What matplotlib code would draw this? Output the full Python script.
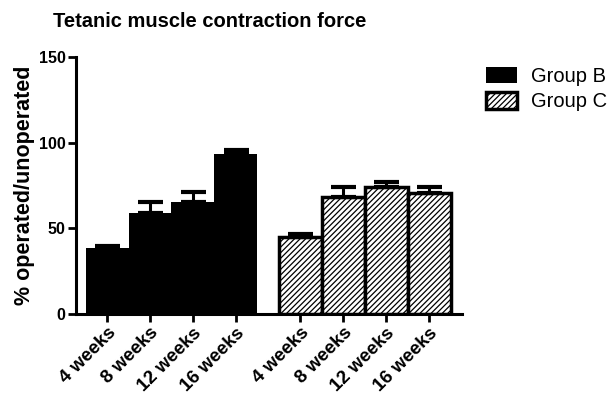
import matplotlib
matplotlib.use('Agg')
from matplotlib import pyplot as plt
import numpy as np

plt.rcParams['font.family'] = ['Liberation Sans', 'DejaVu Sans']
plt.rcParams['hatch.linewidth'] = 0.9
plt.rcParams['hatch.color'] = '#2a2a2a'

# tetanic force, % operated/unoperated (mean and SEM)
timepoints = ['4 weeks', '8 weeks', '12 weeks', '16 weeks']
group_b_mean = [38.3, 58.8, 65.4, 93.2]
group_b_sem = [1.5, 6.4, 6.0, 2.4]
group_c_mean = [45.1, 68.5, 74.3, 70.8]
group_c_sem = [1.6, 5.8, 2.6, 3.3]

pos_b = np.arange(len(timepoints))
pos_c = pos_b + len(timepoints) + 0.5

fig = plt.figure(figsize=(6.14, 4.0), dpi=100)
ax = fig.add_axes([0.124, 0.215, 0.628, 0.6425])

err_kw = dict(elinewidth=2.2, capsize=9, capthick=3, ecolor='black')
ax.bar(pos_b, group_b_mean, width=1.0, color='black', edgecolor='black',
       linewidth=0, label='Group B')
ax.errorbar(pos_b, group_b_mean, yerr=[np.zeros(4), group_b_sem], fmt='none',
            **err_kw)
ax.bar(pos_c, group_c_mean, width=1.0, color='white', edgecolor='black',
       linewidth=2.5, hatch='//////', label='Group C')
ax.errorbar(pos_c, group_c_mean, yerr=[np.zeros(4), group_c_sem], fmt='none',
            **err_kw)

ax.set_xlim(-0.72, 8.26)
ax.set_ylim(0, 150)
ax.set_yticks([0, 50, 100, 150])
ax.set_xticks(np.concatenate([pos_b, pos_c]))
ax.set_xticklabels(timepoints * 2, rotation=45, ha='right',
                   rotation_mode='anchor', fontweight='bold', fontsize=13.5)
for lab in ax.get_yticklabels():
    lab.set_fontweight('bold')
    lab.set_fontsize(11.5)

for side in ['top', 'right']:
    ax.spines[side].set_visible(False)
for side in ['left', 'bottom']:
    ax.spines[side].set_linewidth(2.2)
ax.tick_params(axis='both', width=2, length=6, direction='out', pad=1.5)

ax.set_ylabel('% operated/unoperated', fontsize=15.5, fontweight='bold',
              labelpad=3)
fig.text(53 / 614, 1 - 27 / 400, 'Tetanic muscle contraction force',
         fontsize=14.5, fontweight='bold', ha='left', va='baseline')

ax.legend(loc='upper left', bbox_to_anchor=(1.015, 1.03), frameon=False,
          fontsize=14.5, handlelength=1.55, handleheight=0.85,
          handletextpad=0.7, labelspacing=0.3)

fig.savefig('out.png', dpi=100)
